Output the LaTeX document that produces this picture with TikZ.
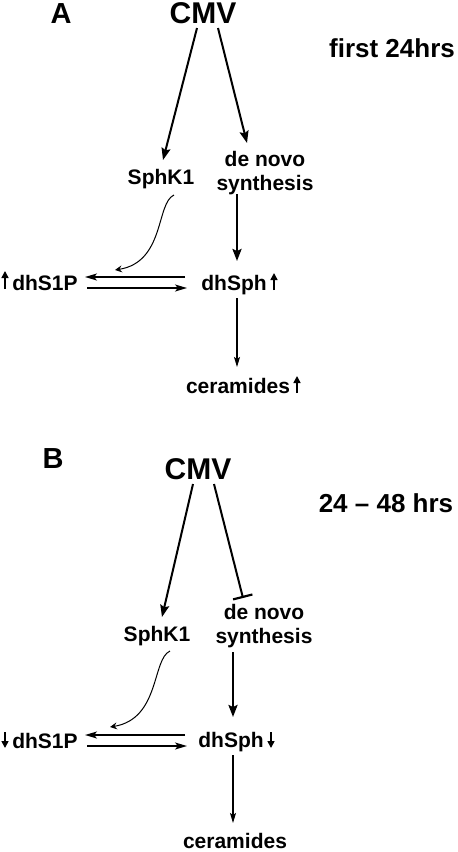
\documentclass[tikz,border=0pt]{standalone}
\usepackage{fontspec}
\setmainfont{Liberation Sans}
\usetikzlibrary{arrows.meta}
\begin{document}
\begin{tikzpicture}[x=1pt,y=-1pt,
  lab/.style={font=\bfseries\fontsize{21}{24}\selectfont, inner sep=0pt, anchor=base},
  big/.style={font=\bfseries\fontsize{30}{34}\selectfont, inner sep=0pt, anchor=base},
  tim/.style={font=\bfseries\fontsize{26}{30}\selectfont, inner sep=0pt, anchor=base},
  pan/.style={font=\bfseries\fontsize{29}{34}\selectfont, inner sep=0pt, anchor=base},
  heavy/.style={line width=2pt, -{Stealth[length=12pt,width=9pt,inset=2pt]}},
  inhib/.style={line width=2pt, -{Bar[width=20pt,line width=2.2pt]}},
  medium/.style={line width=1.6pt, -{Stealth[length=12pt,width=7pt,inset=3pt]}},
  thin/.style={line width=1.3pt, -{Stealth[length=10pt,width=6pt,inset=2pt]}},
  curvy/.style={line width=1pt, -{Stealth[length=7pt,width=7pt,inset=2.5pt]}},
  tick/.style={line width=1.6pt, -{Triangle[length=7pt,width=7pt]}}
]
\useasboundingbox (0,0) rectangle (458,852);

% ---------- Panel A ----------
\node[pan] (pA) at (61,23) {A};
\node[big] (cmvA) at (203,23) {CMV};
\node[tim] (tA) at (392,57) {first 24hrs};
\node[lab] (sphA) at (161,184) {SphK1};
\node[lab, anchor=north, align=center] (dnA) at (265,151) {de novo\\synthesis};
\node[lab] (s1pA) at (45,290) {dhS1P};
\node[lab] (sphgA) at (234,290) {dhSph};
\node[lab] (cerA) at (238,393) {ceramides};

\draw[heavy] ([xshift=-6pt,yshift=-5pt]cmvA.base) -- ([xshift=2pt,yshift=24pt]sphA.base);
\draw[heavy] ([xshift=15pt,yshift=-5pt]cmvA.base) -- ([xshift=-18pt,yshift=8pt]dnA.north);
\draw[curvy] ([xshift=13pt,yshift=-11pt]sphA.base) .. controls +(-18,8) and +(50,-8) .. ([xshift=70pt,yshift=20pt]s1pA.base);
\draw[heavy, line width=2.3pt] ([xshift=-28pt,yshift=-43pt]dnA.north) -- ([xshift=3pt,yshift=29pt]sphgA.base);
\draw[medium] ([xshift=-49pt,yshift=13pt]sphgA.base) -- ([xshift=40pt,yshift=13pt]s1pA.base);
\draw[medium] ([xshift=42pt,yshift=2pt]s1pA.base) -- ([xshift=-47pt,yshift=2pt]sphgA.base);
\draw[thin] ([xshift=3pt,yshift=-8pt]sphgA.base) -- ([xshift=-1pt,yshift=26pt]cerA.base);

\draw[tick] ([xshift=-40pt,yshift=1pt]s1pA.base) -- ([xshift=-40pt,yshift=19pt]s1pA.base);
\draw[tick] ([xshift=40pt,yshift=0pt]sphgA.base) -- ([xshift=40pt,yshift=17pt]sphgA.base);
\draw[tick] ([xshift=59pt,yshift=0pt]cerA.base) -- ([xshift=59pt,yshift=17pt]cerA.base);

% ---------- Panel B ----------
\node[pan] (pB) at (53,468) {B};
\node[big] (cmvB) at (198,479) {CMV};
\node[tim] (tB) at (386,512) {24 -- 48 hrs};
\node[lab] (sphB) at (157,641) {SphK1};
\node[lab, anchor=north, align=center] (dnB) at (264,604) {de novo\\synthesis};
\node[lab] (s1pB) at (45,748) {dhS1P};
\node[lab] (sphgB) at (231,747) {dhSph};
\node[lab] (cerB) at (235,848) {ceramides};

\draw[heavy] ([xshift=-5pt,yshift=-5pt]cmvB.base) -- ([xshift=5pt,yshift=24pt]sphB.base);
\draw[inhib] ([xshift=16pt,yshift=-5pt]cmvB.base) -- ([xshift=-21pt,yshift=6pt]dnB.north);
\draw[curvy] ([xshift=13pt,yshift=-10pt]sphB.base) .. controls +(-18,8) and +(50,-8) .. ([xshift=65pt,yshift=21pt]s1pB.base);
\draw[heavy, line width=2.3pt] ([xshift=-31pt,yshift=-48pt]dnB.north) -- ([xshift=2pt,yshift=30pt]sphgB.base);
\draw[medium] ([xshift=-46pt,yshift=12pt]sphgB.base) -- ([xshift=40pt,yshift=13pt]s1pB.base);
\draw[medium] ([xshift=42pt,yshift=2pt]s1pB.base) -- ([xshift=-44pt,yshift=1pt]sphgB.base);
\draw[thin] ([xshift=2pt,yshift=-8pt]sphgB.base) -- ([xshift=-2pt,yshift=25pt]cerB.base);

\draw[tick] ([xshift=-40pt,yshift=16pt]s1pB.base) -- ([xshift=-40pt,yshift=0pt]s1pB.base);
\draw[tick] ([xshift=40pt,yshift=15pt]sphgB.base) -- ([xshift=40pt,yshift=-1pt]sphgB.base);
\end{tikzpicture}
\end{document}
